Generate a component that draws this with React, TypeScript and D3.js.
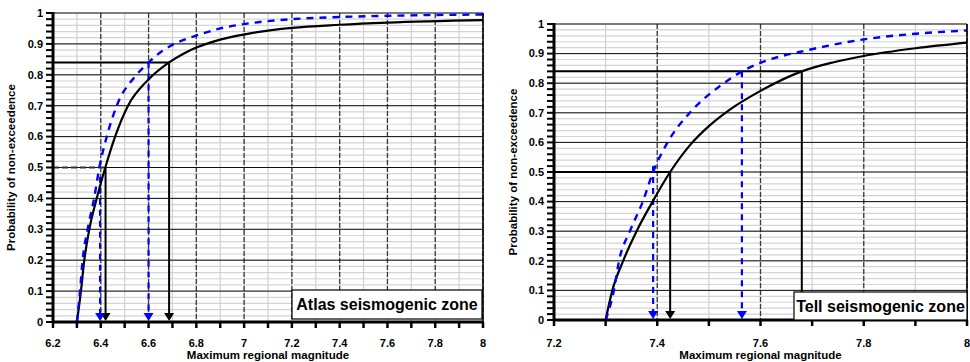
import { curveMonotoneX, line, range, scaleLinear } from "d3";

// Atlas zone: cumulative probability of non-exceedence of maximum regional magnitude
const atlasBlack: [number, number][] = [
  [6.3, 0], [6.317, 0.1], [6.331, 0.2], [6.352, 0.3], [6.383, 0.4], [6.419, 0.5],
  [6.46, 0.6], [6.514, 0.7], [6.6, 0.785], [6.686, 0.84], [6.75, 0.87], [6.8, 0.888],
  [6.9, 0.914], [7.025, 0.934], [7.2, 0.952], [7.4, 0.962], [7.6, 0.969], [8.0, 0.977],
];
const atlasBlue: [number, number][] = [
  [6.3, 0], [6.313, 0.1], [6.324, 0.2], [6.345, 0.3], [6.372, 0.4], [6.394, 0.5],
  [6.425, 0.6], [6.467, 0.7], [6.55, 0.8], [6.6, 0.84], [6.65, 0.873], [6.7, 0.897],
  [6.8, 0.927], [6.9, 0.95], [7.025, 0.967], [7.2, 0.98], [7.4, 0.987], [7.6, 0.991], [8.0, 0.995],
];
// Tell zone
const tellBlack: [number, number][] = [
  [7.3, 0], [7.313, 0.1], [7.334, 0.2], [7.36, 0.3], [7.391, 0.4], [7.425, 0.5],
  [7.463, 0.59], [7.5, 0.655], [7.54, 0.71], [7.6, 0.774], [7.68, 0.84],
  [7.74, 0.87], [7.8, 0.892], [7.9, 0.918], [8.0, 0.937],
];
const tellBlue: [number, number][] = [
  [7.3, 0], [7.316, 0.1], [7.326, 0.2], [7.347, 0.3], [7.372, 0.4], [7.392, 0.5],
  [7.42, 0.6], [7.463, 0.7], [7.525, 0.795], [7.564, 0.84], [7.602, 0.87], [7.695, 0.913],
  [7.8, 0.948], [7.9, 0.967], [8.0, 0.978],
];

// reading lines: [magnitude, probability, dashed horizontal]
const atlasBlackReads: [number, number, boolean][] = [[6.42, 0.5, true], [6.686, 0.84, false]];
const atlasBlueReads: [number, number][] = [[6.397, 0.47], [6.6, 0.84]];
const tellBlackReads: [number, number, boolean][] = [[7.425, 0.5, false], [7.68, 0.84, false]];
const tellBlueReads: [number, number][] = [[7.392, 0.52], [7.564, 0.84]];

const atlasTicks = [6.2, 6.4, 6.6, 6.8, 7, 7.2, 7.4, 7.6, 7.8, 8];
const tellTicks = [7.2, 7.4, 7.6, 7.8, 8];
const yTicks = [0, 0.1, 0.2, 0.3, 0.4, 0.5, 0.6, 0.7, 0.8, 0.9, 1];

type PanelProps = {
  left: number;
  right: number;
  top: number;
  bottom: number;
  domain: [number, number];
  ticks: number[];
  black: [number, number][];
  blue: [number, number][];
  blackReads: [number, number, boolean][];
  blueReads: [number, number][];
  title: string;
  legend: [number, number, number, number];
  ylabelX: number;
  tickY: number;
  titleY: number;
};

function Panel(p: PanelProps) {
  const x = scaleLinear().domain(p.domain).range([p.left, p.right]);
  const y = scaleLinear().domain([0, 1]).range([p.bottom, p.top]);
  const path = line<[number, number]>()
    .curve(curveMonotoneX)
    .x((d) => x(d[0]))
    .y((d) => y(d[1]));

  const minorX = range(Math.round(p.domain[0] * 10), Math.round(p.domain[1] * 10) + 1).map((v) => v / 10);
  const minorY = range(0, 51).map((v) => v / 50);
  const font = "Liberation Sans, Arial, sans-serif";
  const fmt = (v: number) => (Number.isInteger(v) ? String(v) : v.toFixed(1));

  const arrow = (xx: number, color: string) => (
    <path
      d={`M${xx - 5},${p.bottom - 9} L${xx + 5},${p.bottom - 9} L${xx},${p.bottom - 1} Z`}
      fill={color}
    />
  );

  return (
    <g>
      {minorY.map((v) => (
        <line key={`my-${v}`} x1={p.left} x2={p.right} y1={y(v)} y2={y(v)} stroke="#d4d4d4" strokeWidth={1.2} />
      ))}
      {minorX.map((v) => (
        <line key={`mx-${v}`} x1={x(v)} x2={x(v)} y1={p.top} y2={p.bottom} stroke="#cfcfcf" strokeWidth={1.2} />
      ))}
      {p.ticks.slice(1).map((v) => (
        <line
          key={`vx-${v}`}
          x1={x(v)}
          x2={x(v)}
          y1={p.top}
          y2={p.bottom}
          stroke="#3a3a3a"
          strokeWidth={1.3}
          strokeDasharray="5 2"
        />
      ))}
      {yTicks.slice(1).map((v) => (
        <line key={`hy-${v}`} x1={p.left} x2={p.right} y1={y(v)} y2={y(v)} stroke="#111" strokeWidth={1} />
      ))}

      {/* black reading lines */}
      {p.blackReads.map(([m, pr, dashed]) => (
        <g key={`br-${m}`}>
          <line
            x1={p.left}
            x2={x(m)}
            y1={y(pr)}
            y2={y(pr)}
            stroke={dashed ? "#333" : "#000"}
            strokeWidth={2}
            strokeDasharray={dashed ? "6 3" : undefined}
          />
          <line x1={x(m)} x2={x(m)} y1={y(pr)} y2={p.bottom - 6} stroke="#000" strokeWidth={2} />
          {arrow(x(m), "#000")}
        </g>
      ))}
      {p.blueReads.map(([m, pr]) => (
        <g key={`bl-${m}`}>
          <line
            x1={x(m)}
            x2={x(m)}
            y1={y(pr)}
            y2={p.bottom - 6}
            stroke="#0000ff"
            strokeWidth={2.2}
            strokeDasharray="6 5"
          />
          {arrow(x(m), "#0000ff")}
        </g>
      ))}

      <path d={path(p.black) ?? ""} fill="none" stroke="#000" strokeWidth={2.2} />
      <path d={path(p.blue) ?? ""} fill="none" stroke="#0000ff" strokeWidth={2.4} strokeDasharray="7 6" />

      {/* right frame */}
      <line x1={p.right} x2={p.right} y1={p.top} y2={p.bottom} stroke="#000" strokeWidth={1.5} />

      {/* y axis */}
      {minorY.map((v) => (
        <line key={`ty-${v}`} x1={p.left - 7} x2={p.left} y1={y(v)} y2={y(v)} stroke="#000" strokeWidth={2} />
      ))}
      <line x1={p.left} x2={p.left} y1={p.top - 1} y2={p.bottom + 1} stroke="#000" strokeWidth={3} />
      {yTicks.map((v) => (
        <text
          key={`yl-${v}`}
          x={p.left - 10}
          y={y(v)}
          dy="0.35em"
          textAnchor="end"
          fontFamily={font}
          fontWeight="bold"
          fontSize={11}
        >
          {fmt(v)}
        </text>
      ))}

      {/* x axis */}
      <line x1={p.left} x2={p.right} y1={p.bottom} y2={p.bottom} stroke="#000" strokeWidth={3} />
      {minorX.map((v) => (
        <line key={`tx-${v}`} x1={x(v)} x2={x(v)} y1={p.bottom} y2={p.bottom + 6} stroke="#000" strokeWidth={2.5} />
      ))}
      {p.ticks.map((v) => (
        <text
          key={`xl-${v}`}
          x={x(v)}
          y={p.tickY}
          textAnchor="middle"
          fontFamily={font}
          fontWeight="bold"
          fontSize={11}
        >
          {fmt(v)}
        </text>
      ))}
      <text
        x={(p.left + p.right) / 2}
        y={p.titleY}
        textAnchor="middle"
        fontFamily={font}
        fontWeight="bold"
        fontSize={11.5}
      >
        Maximum regional magnitude
      </text>
      <text
        transform={`translate(${p.ylabelX},${(p.top + p.bottom) / 2}) rotate(-90)`}
        textAnchor="middle"
        fontFamily={font}
        fontWeight="bold"
        fontSize={11.5}
      >
        Probability of non-exceedence
      </text>

      {/* legend box */}
      <rect
        x={p.legend[0]}
        y={p.legend[1]}
        width={p.legend[2]}
        height={p.legend[3]}
        fill="#fff"
        stroke="#000"
        strokeWidth={1.2}
      />
      <text
        x={p.legend[0] + p.legend[2] / 2}
        y={p.legend[1] + p.legend[3] / 2}
        dy="0.36em"
        textAnchor="middle"
        fontFamily={font}
        fontWeight="bold"
        fontSize={16}
      >
        {p.title}
      </text>
    </g>
  );
}

export default function App() {
  return (
    <svg
      width={970}
      height={362}
      viewBox="0 0 970 362"
      style={{ position: "absolute", left: 0, top: 0, background: "#fff" }}
    >
      <Panel
        left={53}
        right={483}
        top={13}
        bottom={322}
        domain={[6.2, 8]}
        ticks={atlasTicks}
        black={atlasBlack}
        blue={atlasBlue}
        blackReads={atlasBlackReads}
        blueReads={atlasBlueReads}
        title="Atlas seismogenic zone"
        legend={[292, 290, 190, 29]}
        ylabelX={15}
        tickY={347}
        titleY={359}
      />
      <Panel
        left={554}
        right={967}
        top={24}
        bottom={320}
        domain={[7.2, 8]}
        ticks={tellTicks}
        black={tellBlack}
        blue={tellBlue}
        blackReads={tellBlackReads}
        blueReads={tellBlueReads}
        title="Tell seismogenic zone"
        legend={[794, 292, 173, 28]}
        ylabelX={517}
        tickY={347}
        titleY={359}
      />
    </svg>
  );
}
